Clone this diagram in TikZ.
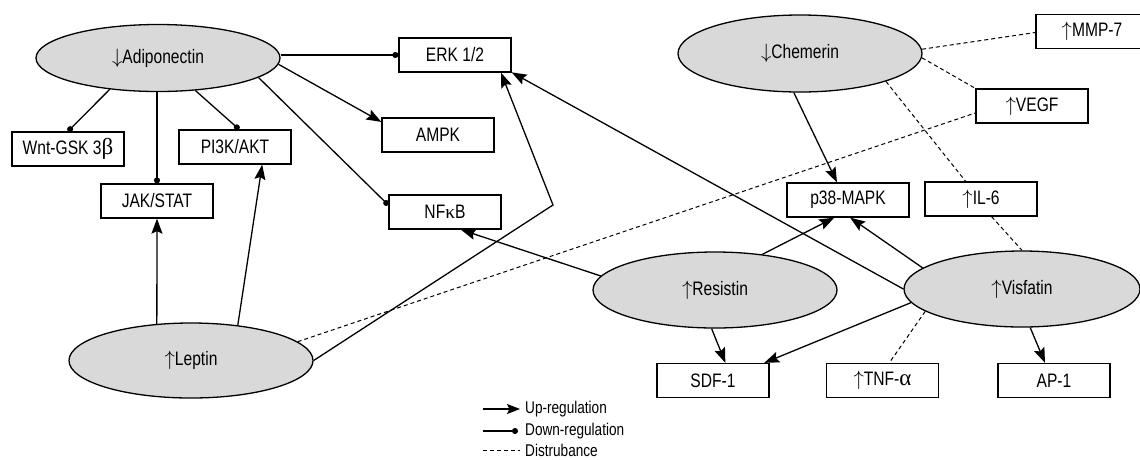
\documentclass[tikz,border=0pt]{standalone}
\usepackage{fontspec}
\setmainfont{Liberation Sans}[FakeStretch=0.8]
\newfontfamily\grk{Liberation Serif}
\usetikzlibrary{shapes.geometric,arrows.meta}
\definecolor{ellfill}{HTML}{D9D9D9}
\newcommand{\upar}{\(\uparrow\)}
\newcommand{\dnar}{\(\downarrow\)}
\begin{document}
\begin{tikzpicture}[x=1pt,y=-1pt,
  ell/.style={ellipse,draw,line width=1.3pt,fill=ellfill,minimum width=244,minimum height=76,inner sep=0pt,font=\fontsize{19.5}{22}\selectfont},
  box/.style={rectangle,draw,line width=1.3pt,minimum width=112,minimum height=34,inner sep=0pt,font=\fontsize{19.5}{22}\selectfont},
  conn/.style={line width=1.3pt},
  up/.style={conn,-{Stealth[length=15pt,width=11pt,inset=2.5pt]}},
  down/.style={conn,-{Circle[length=6pt]}},
  dist/.style={line width=1pt,dash pattern=on 4pt off 3pt},
  legtext/.style={anchor=west,inner sep=0pt,font=\fontsize{17}{20}\selectfont}
]
\clip (0,0) rectangle (1140,459);
\fill[white] (0,0) rectangle (1140,459);

% ellipses
\node[ell,minimum height=67] (adi) at (158,58) {\dnar Adiponectin};
\node[ell,minimum height=77] (che) at (800,53.5) {\dnar Chemerin};
\node[ell,minimum height=75] (lep) at (191,360.5) {\upar Leptin};
\node[ell] (res) at (715,290) {\upar Resistin};
\node[ell,minimum width=236] (vis) at (1022,289) {\upar Visfatin};

% boxes
\node[box] (erk) at (455,55) {ERK 1/2};
\node[box] (ampk) at (438,135) {AMPK};
\node[box] (nfkb) at (445,212) {NF{\grk κ}B};
\node[box] (wnt) at (68,149) {Wnt-GSK 3{\grk\fontsize{23}{22}\selectfont β}};
\node[box] (pi3k) at (235,147) {PI3K/AKT};
\node[box] (jak) at (157,201) {JAK/STAT};
\node[box,minimum width=122] (p38) at (848,200) {p38-MAPK};
\node[box] (il6) at (981,199) {\upar IL-6};
\node[box] (mmp) at (1092,31.5) {\upar MMP-7};
\node[box] (vegf) at (1032,106) {\upar VEGF};
\node[box] (sdf) at (713,380.5) {SDF-1};
\node[box] (tnf) at (882.5,380.5) {\upar TNF-{\grk\fontsize{23}{22}\selectfont α}};
\node[box] (ap1) at (1054,380.5) {AP-1};

% adiponectin
\draw[down] (erk.west -| adi.east) -- (erk.west);
\draw[up] (adi.-3.3) -- (ampk.167);
\draw[down] (adi.-11.1) -- (nfkb.173);
\draw[down] (adi.-147) -- (wnt.north);
\draw[down] (jak.north |- adi.south) -- (jak.north);
\draw[down] (adi.-41) -- (pi3k.77);

% leptin
\draw[up] (lep.133.4) -- (jak.south);
\draw[up] (lep.37.8) -- (pi3k.-33.2);
\coordinate (bend) at (553,205);
\draw[up] (lep.east) -- (bend) -- (erk.-21.1);
\draw[dist] (lep.10.7) -- (vegf.187);

% resistin
\draw[up] (res.173) -- (nfkb.-48.6);
\draw[up] (res.265) -- (sdf.55.6);
\draw[up] (res.37.5) -- (p38.232.6);

% visfatin
\draw[up] (vis.west) -- (erk.-17.5);
\draw[up] (vis.168.4) -- (p38.-83.3);
\draw[up] (vis.187) -- (sdf.19.3);
\draw[up] (vis.-78.1) -- (ap1.117.2);
\draw[dist] (vis.193.3) -- (tnf.69.6);
\draw[dist] (il6.-59.5) -- (vis.north);

% chemerin
\draw[up] (che.261) -- (p38.122.9);
\draw[dist] (che.2.6) -- (mmp.181.5);
\draw[dist] (che.-2.6) -- (vegf.north west);
\draw[dist] (che.-18.9) -- (il6.131.4);

% legend
\node[legtext] (lt1) at (525,409) {Up-regulation};
\node[legtext] (lt2) at (525,431) {Down-regulation};
\node[legtext] (lt3) at (525,450) {Distrubance};
\coordinate (lg1) at (483,409);
\coordinate (lg2) at (483,431);
\coordinate (lg3) at (483,450);
\draw[conn,-{Stealth[length=13pt,width=10pt,inset=2.5pt]},shorten >=5pt] (lg1) -- (lt1.west);
\draw[down,shorten >=7pt] (lg2) -- (lt2.west);
\draw[dist,shorten >=5pt] (lg3) -- (lt3.west);
\end{tikzpicture}
\end{document}
